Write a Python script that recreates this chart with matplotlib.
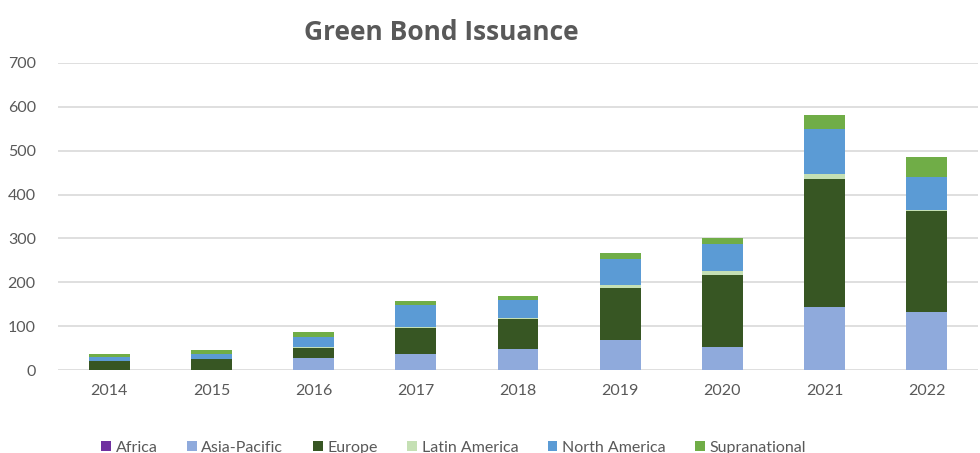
import matplotlib.pyplot as plt
import numpy as np

plt.rcParams['font.family'] = ['Lato', 'DejaVu Sans']

years = ["2014", "2015", "2016", "2017", "2018", "2019", "2020", "2021", "2022"]
regions = ["Africa", "Asia-Pacific", "Europe", "Latin America", "North America", "Supranational"]
africa = [0, 0, 0.3, 0.5, 0.5, 0.5, 0.5, 0.5, 0.5]
asia_pacific = [0.5, 1, 26, 36, 47, 67, 53, 144, 132]
europe = [20.5, 24, 25, 60, 68, 119, 163, 292, 230]
latin_america = [0.5, 1, 1, 2, 2, 7, 10, 10, 2]
north_america = [8, 11, 23, 50, 42, 59, 61, 103, 75]
supranational = [7, 9, 12, 9, 10, 15, 14, 33, 47]

series = [africa, asia_pacific, europe, latin_america, north_america, supranational]
colors = ["#7030A0", "#8FAADC", "#375623", "#C5E0B4", "#5B9BD5", "#70AD47"]

fig = plt.figure(figsize=(9.8, 4.53), dpi=100)
ax = fig.add_axes([58 / 980, 1 - 370 / 453, 920 / 980, 307 / 453])

x = np.arange(len(years))
bottom = np.zeros(len(years))
for name, vals, col in zip(regions, series, colors):
    ax.bar(x, vals, width=0.4, bottom=bottom, color=col, label=name, zorder=3)
    bottom += np.array(vals)

ax.set_xlim(-0.5, len(years) - 0.5)
ax.set_ylim(0, 700)
ax.set_yticks(range(0, 701, 100))
ax.set_xticks(x)
ax.set_xticklabels(years)
ax.yaxis.grid(True, color="#D9D9D9", linewidth=1.2, zorder=0)
for s in ax.spines.values():
    s.set_visible(False)
ax.tick_params(length=0, colors="#595959", labelsize=11.5)
ax.tick_params(axis="y", pad=16)
ax.tick_params(axis="x", pad=10)

# title a bit wider/heavier, like the original
fig.text(0.450, 0.928, "Green Bond Issuance", ha="center", va="center",
         fontsize=19, fontweight="bold", color="#595959", family="Open Sans")

leg = fig.legend(loc="center", bbox_to_anchor=(0.463, 0.012), ncol=6, frameon=False,
                 fontsize=11.5, handlelength=0.6, handleheight=0.6, handletextpad=0.3,
                 columnspacing=1.85, labelcolor="#595959")

fig.savefig("out.png", dpi=100)
